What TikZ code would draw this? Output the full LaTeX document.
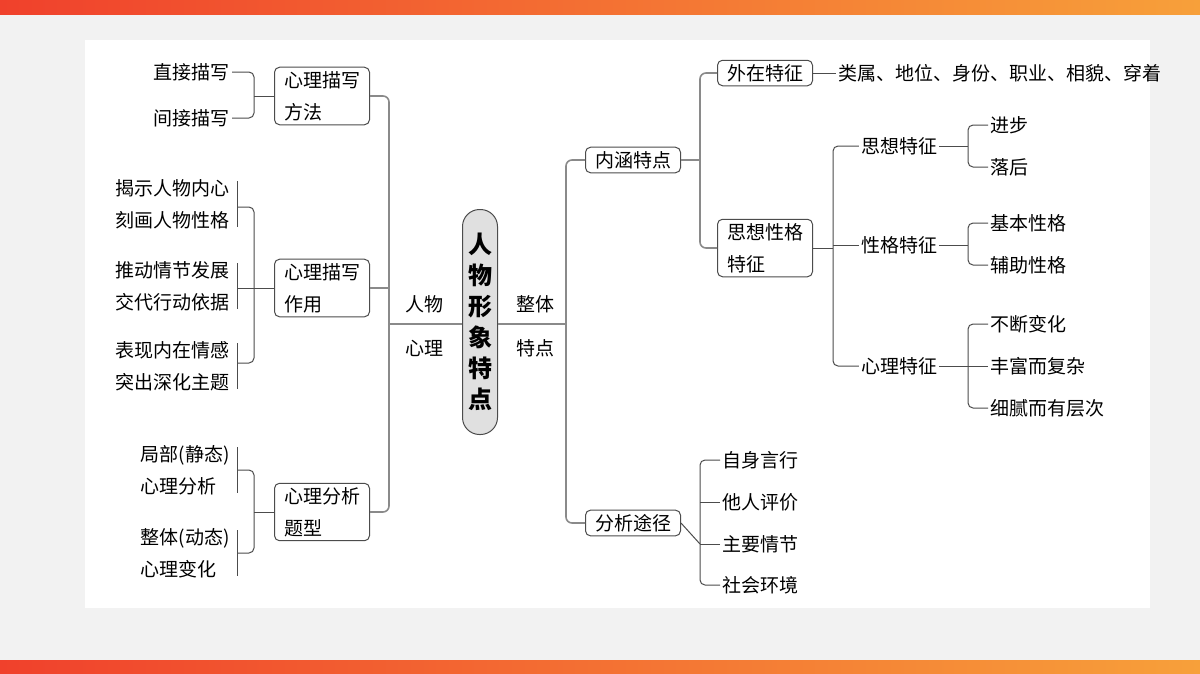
\documentclass[tikz,border=0pt]{standalone}
\usepackage{fontspec}
\setmainfont{Noto Sans CJK SC}
\usetikzlibrary{positioning,calc}
\definecolor{linegray}{HTML}{8A8A8A}
\definecolor{slidebg}{HTML}{F2F2F2}
\definecolor{barred}{HTML}{F0412C}
\definecolor{barorange}{HTML}{F7A03A}
\begin{document}
\begin{tikzpicture}[x=1pt,y=-1pt]
\tikzset{box/.style={
    draw=black!70, line width=1pt, rounded corners=5pt,
    minimum width=95pt, inner sep=4pt, align=left,
    font=\fontsize{19}{32}\selectfont
  },
  leaf/.style={inner sep=2pt, font=\fontsize{19}{32}\selectfont},
  link/.style={draw=linegray, line width=1.6pt, rounded corners=6pt},
  twig/.style={draw=black!70, line width=1pt, rounded corners=5pt}
}
% slide background
\fill[slidebg] (0,0) rectangle (1200,673);
\shade[left color=barred, right color=barorange] (0,0) rectangle (1200,14);
\shade[left color=barred, right color=barorange] (0,660) rectangle (1200,673);
\fill[white] (85,40) rectangle (1150,608);
\useasboundingbox (0,0) rectangle (1200,673);

% centre
\node[draw=black!70, line width=1pt, fill=black!12, rounded corners=17pt,
      minimum width=35pt, minimum height=225pt, align=center,
      font=\fontsize{24}{31}\selectfont\bfseries] (root) at (480,322)
      {人\\物\\形\\象\\特\\点};
\node[leaf] (lA) at (424,304) {人物};
\node[leaf] (lB) at (424,348) {心理};
\node[leaf] (rA) at (535,304) {整体};
\node[leaf] (rB) at (535,348) {特点};

% left side
\node[box] (fangfa) at (322,96) {心理描写\\方法};
\node[box] (zuoyong) at (322,288) {心理描写\\作用};
\node[box] (tixing) at (322,512) {心理分析\\题型};
\coordinate (ltrunk) at (389,324);
\draw[link] (root.west |- ltrunk) -- (ltrunk);
\draw[link] (fangfa.east) -| (ltrunk) |- (tixing.east);
\draw[link] (zuoyong.east) -- (zuoyong.east -| ltrunk);

\node[leaf, anchor=east] (zhijie) at (232,72) {直接描写};
\node[leaf, anchor=east] (jianjie) at (232,118) {间接描写};
\draw[twig] (zhijie.east) -- ++(6,0) -| (254,96) |- (jianjie.east);
\draw[twig] (254,96) -- (fangfa.west);

\node[leaf, anchor=east, align=right] (z1) at (232,204) {揭示人物内心\\刻画人物性格};
\node[leaf, anchor=east, align=right] (z2) at (232,286) {推动情节发展\\交代行动依据};
\node[leaf, anchor=east, align=right] (z3) at (232,366) {表现内在情感\\突出深化主题};
\foreach \n in {z1,z2,z3}
  \draw[twig] ($(\n.north east)+(5,4)$) -- ($(\n.south east)+(5,-4)$);
\draw[twig] (237,207) -| (254,288) |- (237,363);
\draw[twig] (237,288) -- (zuoyong.west);

\node[leaf, anchor=east, align=left] (t1) at (232,470) {局部(静态)\\心理分析};
\node[leaf, anchor=east, align=left] (t2) at (232,553) {整体(动态)\\心理变化};
\foreach \n in {t1,t2}
  \draw[twig] ($(\n.north east)+(5,4)$) -- ($(\n.south east)+(5,-4)$);
\draw[twig] (237,470) -| (254,512) |- (237,553);
\draw[twig] (254,512) -- (tixing.west);

% right side
\node[box] (neihan) at (633,160) {内涵特点};
\node[box] (tujing) at (633,523) {分析途径};
\coordinate (rtrunk) at (566,324);
\draw[link] (root.east |- rtrunk) -- (rtrunk);
\draw[link] (neihan.west) -| (rtrunk) |- (tujing.west);

\node[box] (waizai) at (765,73) {外在特征};
\node[box] (sixiang) at (765,248) {思想性格\\特征};
\draw[link] (neihan.east) -- (700,160);
\draw[link] (waizai.west) -| (700,160) |- (sixiang.west);
\node[leaf, anchor=west] (shuxing) at (836,73) {类属、地位、身份、职业、相貌、穿着};
\draw[twig] (waizai.east) -- (shuxing.west);

\node[leaf] (sx) at (899,146) {思想特征};
\node[leaf] (xg) at (899,245) {性格特征};
\node[leaf] (xl) at (899,366) {心理特征};
\draw[twig] (sixiang.east) -- (833,248);
\draw[twig] (sx.west) -| (833,248) |- (xl.west);
\draw[twig] (833,245) -- (xg.west);

\node[leaf, anchor=west] (jinbu) at (988,125) {进步};
\node[leaf, anchor=west] (luohou) at (988,167) {落后};
\node[leaf, anchor=west] (jiben) at (988,223) {基本性格};
\node[leaf, anchor=west] (fuzhu) at (988,265) {辅助性格};
\node[leaf, anchor=west] (bd) at (988,324) {不断变化};
\node[leaf, anchor=west] (ff) at (988,366) {丰富而复杂};
\node[leaf, anchor=west] (xn) at (988,408) {细腻而有层次};
\draw[twig] (sx.east) -- (968,146);
\draw[twig] (jinbu.west) -| (968,146) |- (luohou.west);
\draw[twig] (xg.east) -- (968,245);
\draw[twig] (jiben.west) -| (968,245) |- (fuzhu.west);
\draw[twig] (xl.east) -- (ff.west);
\draw[twig] (bd.west) -| (968,366) |- (xn.west);

\node[leaf, anchor=west] (zs) at (720,460) {自身言行};
\node[leaf, anchor=west] (tr) at (720,502) {他人评价};
\node[leaf, anchor=west] (zy) at (720,544) {主要情节};
\node[leaf, anchor=west] (sh) at (720,585) {社会环境};
\draw[twig] (tujing.east) -- (zy.west -| 700,0);
\draw[twig] (zs.west) -| (700,523) |- (sh.west);
\draw[twig] (tr.west) -- (tr.west -| 700,0);
\draw[twig] (zy.west) -- (zy.west -| 700,0);
\end{tikzpicture}
\end{document}
